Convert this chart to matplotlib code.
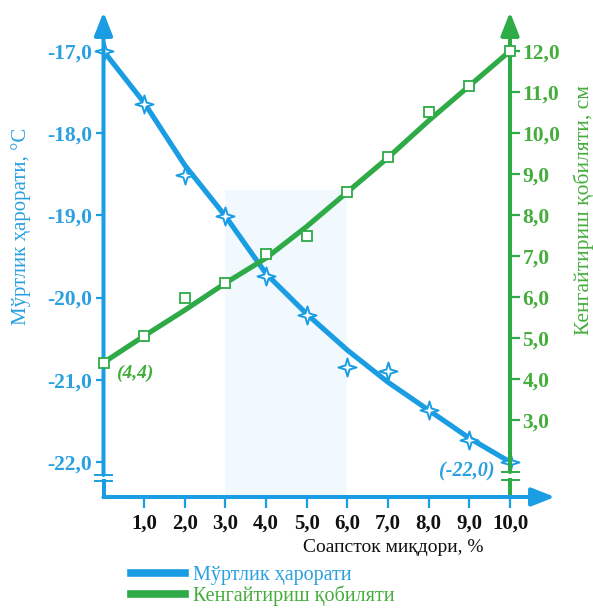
import matplotlib
matplotlib.use("Agg")
import matplotlib.pyplot as plt
from matplotlib.lines import Line2D
from matplotlib.patches import Rectangle, FancyArrowPatch
from matplotlib.path import Path
import numpy as np

plt.rcParams['font.family'] = ['Liberation Serif', 'DejaVu Serif']

# ---- data ----
soapstock = [0, 1, 2, 3, 4, 5, 6, 7, 8, 9, 10]
temp_points = [-17.0, -17.64, -18.51, -19.01, -19.74, -20.21, -20.84, -20.89, -21.37, -21.73, -22.0]
temp_trend = [-17.0, -17.63, -18.39, -19.01, -19.71, -20.2, -20.64, -21.03, -21.37, -21.71, -22.0]
expand_points = [4.4, 5.05, 5.98, 6.34, 7.05, 7.49, 8.56, 9.41, 10.51, 11.15, 12.0]
expand_trend = [4.4, 5.05, 5.68, 6.34, 6.95, 7.72, 8.56, 9.4, 10.3, 11.15, 12.0]

x_ticks = [1, 2, 3, 4, 5, 6, 7, 8, 9, 10]
x_ticklabels = ['1,0', '2,0', '3,0', '4,0', '5,0', '6,0', '7,0', '8,0', '9,0', '10,0']
temp_ticks = [-17, -18, -19, -20, -21, -22]
temp_ticklabels = ['-17,0', '-18,0', '-19,0', '-20,0', '-21,0', '-22,0']
exp_ticks = [3, 4, 5, 6, 7, 8, 9, 10, 11, 12]
exp_ticklabels = ['3,0', '4,0', '5,0', '6,0', '7,0', '8,0', '9,0', '10,0', '11,0', '12,0']
shade_range = (3.0, 6.0)
shade_top = -18.69

BLUE = '#1a9de3'
BLUE_T = '#2aa0e0'
GREEN = '#2eaa47'
GREEN_T = '#45ad3c'

W, H = 593, 609
fig = plt.figure(figsize=(W / 100, H / 100), dpi=100)
ax_l, ax_r = 103.5, 510
ax_t, ax_b = 12, 497
ax = fig.add_axes([ax_l / W, 1 - ax_b / H, (ax_r - ax_l) / W, (ax_b - ax_t) / H])
ax2 = ax.twinx()

ax.set_xlim(0, 10)
ax.set_ylim(-22.426, -16.526)
ax2.set_ylim(1.122, 12.951)

for a in (ax, ax2):
    for s in a.spines.values():
        s.set_visible(False)
    a.patch.set_visible(False)

# shaded band
ax.add_patch(Rectangle((shade_range[0], -22.426), shade_range[1] - shade_range[0],
                       shade_top + 22.426, facecolor='#f1f9fe', edgecolor='none', zorder=0))

# 4-pointed star marker
r_in = 0.32
angs = np.deg2rad(np.arange(0, 360, 45) + 90)
rads = np.array([1, r_in] * 4)
star_verts = np.column_stack([rads * np.cos(angs), rads * np.sin(angs)])
star_verts = np.vstack([star_verts, star_verts[:1]])
star = Path(star_verts, closed=True)

# series
ax.plot(soapstock, temp_trend, color=BLUE, lw=3.7, zorder=3, solid_capstyle='round')
ax.plot(soapstock, temp_points, linestyle='none', marker=star, markersize=13,
        markerfacecolor='white', markeredgecolor=BLUE, markeredgewidth=1.4, zorder=5, clip_on=False)
ax2.plot(soapstock, expand_trend, color=GREEN, lw=3.7, zorder=3, solid_capstyle='round')
ax2.plot(soapstock, expand_points, linestyle='none', marker='s', markersize=7,
         markerfacecolor='white', markeredgecolor=GREEN, markeredgewidth=1.3, zorder=5, clip_on=False)

# axes lines with arrows
def arrow(a, p0, p1, color):
    arr = FancyArrowPatch(p0, p1, arrowstyle='-|>,head_length=1.4,head_width=0.55',
                          mutation_scale=10, color=color, lw=2.9, shrinkA=0, shrinkB=0,
                          transform=a.transAxes, clip_on=False, zorder=6)
    a.add_patch(arr)

# left axis: with break gap
brk_l = (1 - (481 - ax_t) / (ax_b - ax_t), 1 - (475 - ax_t) / (ax_b - ax_t))
ax.plot([0, 0], [0, brk_l[0]], color=BLUE, lw=2.9, transform=ax.transAxes, clip_on=False, zorder=6)
arrow(ax, (0, brk_l[1]), (0, 1.0), BLUE)
bw = 8.5 / (ax_r - ax_l)
for yb in brk_l:
    ax.plot([-bw, bw], [yb, yb], color=BLUE, lw=1.4, transform=ax.transAxes, clip_on=False, zorder=6)

# right axis
brk_r = (1 - (480 - ax_t) / (ax_b - ax_t), 1 - (472 - ax_t) / (ax_b - ax_t))
ax.plot([1, 1], [0, brk_r[0]], color=GREEN, lw=2.9, transform=ax.transAxes, clip_on=False, zorder=6)
arrow(ax, (1, brk_r[1]), (1, 1.0), GREEN)
for yb in brk_r:
    ax.plot([1 - bw, 1 + bw], [yb, yb], color=GREEN, lw=1.4, transform=ax.transAxes, clip_on=False, zorder=6)

# x axis
x_end = (555 - ax_l) / (ax_r - ax_l)
arrow(ax, (0, 0), (x_end, 0), BLUE)

# ticks
ax.set_xticks(x_ticks)
ax.set_xticklabels(x_ticklabels, fontsize=15, fontweight='bold', color='#111111')
ax.tick_params(axis='x', direction='out', length=8, width=1.6, color=BLUE, pad=4)
ax.set_yticks(temp_ticks)
ax.set_yticklabels(temp_ticklabels, fontsize=15.5, fontweight='bold', color=BLUE_T)
ax.tick_params(axis='y', direction='out', length=6, width=1.6, color=BLUE, pad=2)
ax2.set_yticks(exp_ticks)
ax2.set_yticklabels(exp_ticklabels, fontsize=15.5, fontweight='bold', color=GREEN_T)
ax2.tick_params(axis='y', direction='out', length=7, width=1.6, color=GREEN, pad=2)

# axis labels
fig.text(21 / W, 1 - 226 / H, 'Мўртлик ҳарорати, °С', rotation=90, color=BLUE_T,
         fontsize=15, ha='center', va='center')
fig.text(584 / W, 1 - 210 / H, 'Кенгайтириш қобиляти, см', rotation=90, color=GREEN_T,
         fontsize=15.5, ha='center', va='center')
fig.text(393 / W, 1 - 548 / H, 'Соапсток миқдори, %', color='#111111',
         fontsize=14, ha='center', va='center')

# annotations
ax2.annotate('(4,4)', xy=(soapstock[0], expand_points[0]), xytext=(9, -8),
             textcoords='offset points', color=GREEN_T, fontsize=14, fontstyle='italic',
             fontweight='bold', ha='left', va='center')
ax.annotate('(-22,0)', xy=(soapstock[-1], temp_points[-1]), xytext=(-11, -7),
            textcoords='offset points', color=BLUE_T, fontsize=14.5, fontstyle='italic',
            fontweight='bold', ha='right', va='center')

# legend
handles = [Line2D([], [], color=BLUE, lw=5.5), Line2D([], [], color=GREEN, lw=5.5)]
leg = fig.legend(handles, ['Мўртлик ҳарорати', 'Кенгайтириш қобиляти'],
                 loc='upper left', bbox_to_anchor=(131 / W, 1 - 566 / H), frameon=False,
                 fontsize=14.5, handlelength=2.7, handletextpad=0.4, labelspacing=0.0,
                 borderpad=0, borderaxespad=0)
for t, c in zip(leg.get_texts(), [BLUE_T, GREEN_T]):
    t.set_color(c)

fig.savefig('out.png', dpi=100)
